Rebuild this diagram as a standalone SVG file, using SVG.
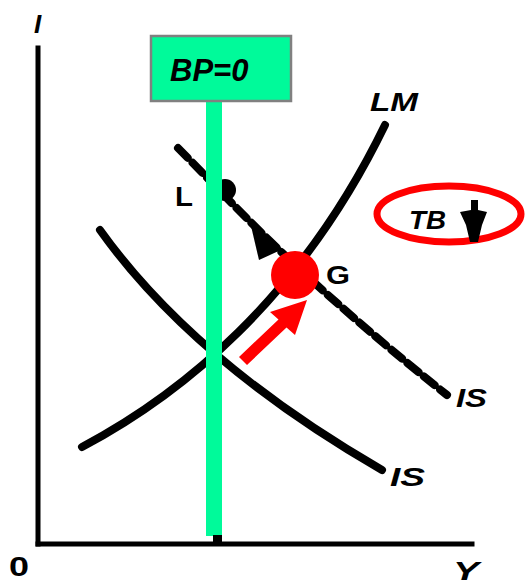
<svg xmlns="http://www.w3.org/2000/svg" width="526" height="586" viewBox="0 0 526 586">
<style>
.lbl{font-family:"Liberation Sans",Arial,sans-serif;font-weight:bold;font-style:italic;fill:#000}
.up{font-style:normal}
.curve{fill:none;stroke:#000;stroke-width:8;stroke-linecap:round}
.axis{fill:none;stroke:#000;stroke-width:5;stroke-linecap:square}
</style>
<rect width="526" height="586" fill="#fff"/>
<g id="axes">
<line class="axis" x1="38" y1="48" x2="38" y2="544"/>
<line class="axis" x1="38" y1="544" x2="472" y2="544"/>
<text class="lbl" x="34" y="33" font-size="26">I</text>
<text class="lbl up" x="9" y="576" font-size="28" textLength="20" lengthAdjust="spacingAndGlyphs">0</text>
<text class="lbl" x="453" y="580" font-size="26" textLength="26" lengthAdjust="spacingAndGlyphs">Y</text>
</g>
<g id="connectors">
<path id="LM" class="curve" d="M82,447 C180,395 300,300 385,125"/>
<path id="IS1" class="curve" d="M100,230 C150,300 235,385 382,470"/>
<path id="IS2" class="curve" d="M178,148 C230,200 290,270 447,395" stroke-width="7" stroke-dasharray="14 7" stroke-linecap="butt"/>
<polygon points="251,226 283,249 259,260" fill="#000"/>
</g>
<g id="node-L">
<circle cx="225" cy="190" r="11" fill="#000"/>
<text class="lbl up" x="175" y="206" font-size="27" textLength="18" lengthAdjust="spacingAndGlyphs">L</text>
</g>
<g id="labels">
<text class="lbl" x="370" y="111" font-size="25" textLength="48" lengthAdjust="spacingAndGlyphs">LM</text>
<text class="lbl" x="456" y="407" font-size="26" textLength="31" lengthAdjust="spacingAndGlyphs">IS</text>
<text class="lbl" x="390" y="486" font-size="26" textLength="35" lengthAdjust="spacingAndGlyphs">IS</text>
</g>
<g id="bp-line">
<rect x="206" y="100" width="16" height="436" fill="#00FA9A"/>
<rect x="213" y="535" width="9" height="9" fill="#000"/>
</g>
<g id="node-BP">
<rect x="151" y="36" width="140" height="65" fill="#00FA9A" stroke="#808080" stroke-width="2.5"/>
<text class="lbl" x="170" y="81" font-size="31">BP=0</text>
</g>
<g id="node-G">
<circle cx="295" cy="275" r="24" fill="#FF0000"/>
<text class="lbl up" x="326" y="284" font-size="25" textLength="24" lengthAdjust="spacingAndGlyphs">G</text>
</g>
<g id="red-arrow">
<polygon points="239,357 278.5,319.5 270,312 307,300 295,335 286.5,327.5 247,365" fill="#FF0000"/>
</g>
<g id="node-TB">
<ellipse cx="449" cy="214" rx="72" ry="28" fill="none" stroke="#FF0000" stroke-width="7"/>
<text class="lbl" x="409" y="229" font-size="26" textLength="37" lengthAdjust="spacingAndGlyphs">TB</text>
<polygon points="471,200 478,200 478,210 487,212 482,225 478,242 470,242 466,225 460,212 471,210" fill="#000"/>
</g>
</svg>
